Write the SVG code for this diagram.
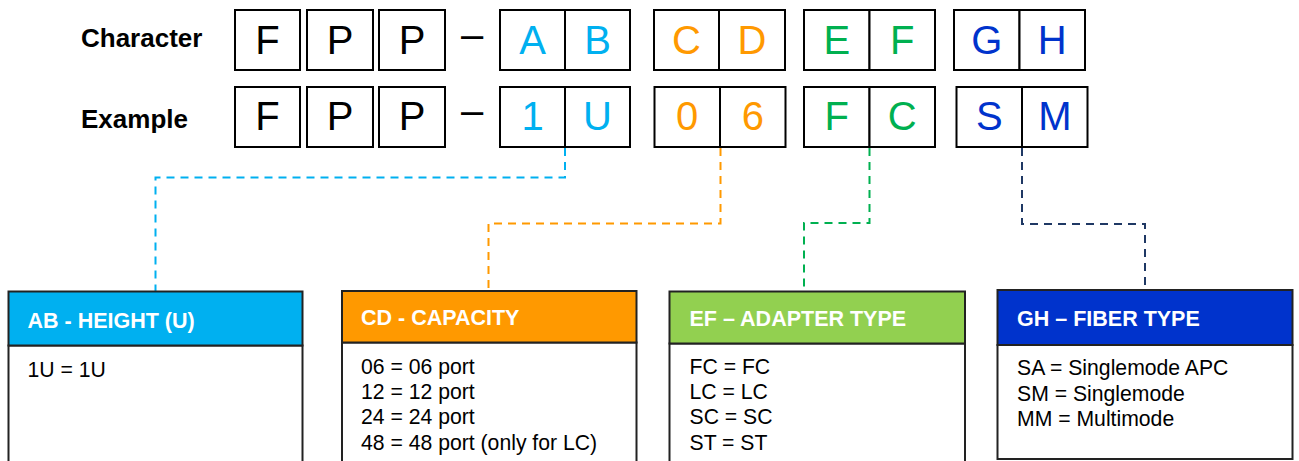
<svg xmlns="http://www.w3.org/2000/svg" width="1299" height="461" viewBox="0 0 1299 461">
<style>
.cell{fill:#fff;stroke:#000;stroke-width:2}
.lbl{font-family:"Liberation Sans",Arial,sans-serif;font-weight:bold;font-size:26px;fill:#000}
.big{font-family:"Liberation Sans",Arial,sans-serif;font-size:40px;text-anchor:middle}
.k{fill:#000}.b{fill:#00B0F0}.o{fill:#FF9900}.g{fill:#00B050}.n{fill:#0033CC}
.hdr{stroke:#222;stroke-width:2}
.body{fill:#fff;stroke:#222;stroke-width:2}
.ht{font-family:"Liberation Sans",Arial,sans-serif;font-weight:bold;font-size:21.5px;fill:#fff}
.bt{font-family:"Liberation Sans",Arial,sans-serif;font-size:21.2px;fill:#000}
.con{fill:none;stroke-width:2;stroke-dasharray:8 6}
</style>
<text class="lbl" x="81" y="47">Character</text>
<text class="lbl" x="81" y="128">Example</text>
<g id="row-character">
<rect class="cell" x="235" y="10" width="65" height="60"/>
<rect class="cell" x="307" y="10" width="66" height="60"/>
<rect class="cell" x="379" y="10" width="66" height="60"/>
<rect class="cell" x="500" y="10" width="65" height="60"/>
<rect class="cell" x="565" y="10" width="65" height="60"/>
<rect class="cell" x="654" y="10" width="65" height="60"/>
<rect class="cell" x="719" y="10" width="66" height="60"/>
<rect class="cell" x="804" y="10" width="65.5" height="60"/>
<rect class="cell" x="869.5" y="10" width="65.5" height="60"/>
<rect class="cell" x="954" y="10" width="65.5" height="60"/>
<rect class="cell" x="1019.5" y="10" width="65.5" height="60"/>
<text class="big k" x="267.5" y="53.5">F</text>
<text class="big k" x="340" y="53.5">P</text>
<text class="big k" x="412" y="53.5">P</text>
<text class="big k" x="472" y="47.5">–</text>
<text class="big b" x="532.5" y="53.5">A</text>
<text class="big b" x="597.5" y="53.5">B</text>
<text class="big o" x="686.5" y="53.5">C</text>
<text class="big o" x="752" y="53.5">D</text>
<text class="big g" x="836.8" y="53.5">E</text>
<text class="big g" x="902.3" y="53.5">F</text>
<text class="big n" x="986.8" y="53.5">G</text>
<text class="big n" x="1052.3" y="53.5">H</text>
</g>
<g id="row-example">
<rect class="cell" x="235" y="87" width="65" height="60"/>
<rect class="cell" x="307" y="87" width="66" height="60"/>
<rect class="cell" x="379" y="87" width="66" height="60"/>
<rect class="cell" x="500" y="87" width="65" height="60"/>
<rect class="cell" x="565" y="87" width="65" height="60"/>
<rect class="cell" x="654.5" y="87" width="65.5" height="60"/>
<rect class="cell" x="720" y="87" width="65.5" height="60"/>
<rect class="cell" x="804" y="87" width="65.5" height="60"/>
<rect class="cell" x="869.5" y="87" width="65.5" height="60"/>
<rect class="cell" x="956.5" y="87" width="65.5" height="60"/>
<rect class="cell" x="1022" y="87" width="65.5" height="60"/>
<text class="big k" x="267.5" y="130">F</text>
<text class="big k" x="340" y="130">P</text>
<text class="big k" x="412" y="130">P</text>
<text class="big k" x="472" y="124">–</text>
<text class="big b" x="532.5" y="130">1</text>
<text class="big b" x="597.5" y="130">U</text>
<text class="big o" x="687" y="130">0</text>
<text class="big o" x="752.8" y="130">6</text>
<text class="big g" x="836.8" y="130">F</text>
<text class="big g" x="902.3" y="130">C</text>
<text class="big n" x="989.3" y="130">S</text>
<text class="big n" x="1054.8" y="130">M</text>
</g>
<g id="connectors">
<path class="con" stroke="#00B0F0" d="M565,148 V177.5 H155.5 V291"/>
<path class="con" stroke="#FF9900" d="M720.5,148 V223.5 H488.5 V290"/>
<path class="con" stroke="#00B050" d="M869.5,148 V223 H804 V290"/>
<path class="con" stroke="#1F3864" d="M1022,148 V224 H1145 V289"/>
</g>
<g id="node-ab">
<rect class="body" x="8.5" y="345.5" width="294" height="130"/>
<rect class="hdr" fill="#00B0F0" x="8.5" y="291.5" width="294" height="54"/>
<text class="ht" x="27.5" y="328">AB - HEIGHT (U)</text>
<text class="bt" x="27.5" y="377">1U = 1U</text>
</g>
<g id="node-cd">
<rect class="body" x="342" y="342.5" width="294.5" height="130"/>
<rect class="hdr" fill="#FF9900" x="342" y="291" width="294.5" height="51.5"/>
<text class="ht" x="361" y="325">CD - CAPACITY</text>
<text class="bt" x="361" y="373.5">06 = 06 port</text>
<text class="bt" x="361" y="399">12 = 12 port</text>
<text class="bt" x="361" y="424.2">24 = 24 port</text>
<text class="bt" x="361" y="449.5">48 = 48 port (only for LC)</text>
</g>
<g id="node-ef">
<rect class="body" x="669.5" y="343.5" width="295.5" height="130"/>
<rect class="hdr" fill="#92D050" x="669.5" y="291.5" width="295.5" height="52"/>
<text class="ht" x="689.5" y="326">EF – ADAPTER TYPE</text>
<text class="bt" x="689.5" y="374">FC = FC</text>
<text class="bt" x="689.5" y="399.2">LC = LC</text>
<text class="bt" x="689.5" y="424.4">SC = SC</text>
<text class="bt" x="689.5" y="449.7">ST = ST</text>
</g>
<g id="node-gh">
<rect class="body" x="997.5" y="345" width="295" height="114" stroke="#555"/>
<rect class="hdr" fill="#0033CC" x="997.5" y="290" width="295" height="55"/>
<text class="ht" x="1017" y="326">GH – FIBER TYPE</text>
<text class="bt" x="1017" y="375">SA = Singlemode APC</text>
<text class="bt" x="1017" y="400.5">SM = Singlemode</text>
<text class="bt" x="1017" y="426">MM = Multimode</text>
</g>
</svg>
